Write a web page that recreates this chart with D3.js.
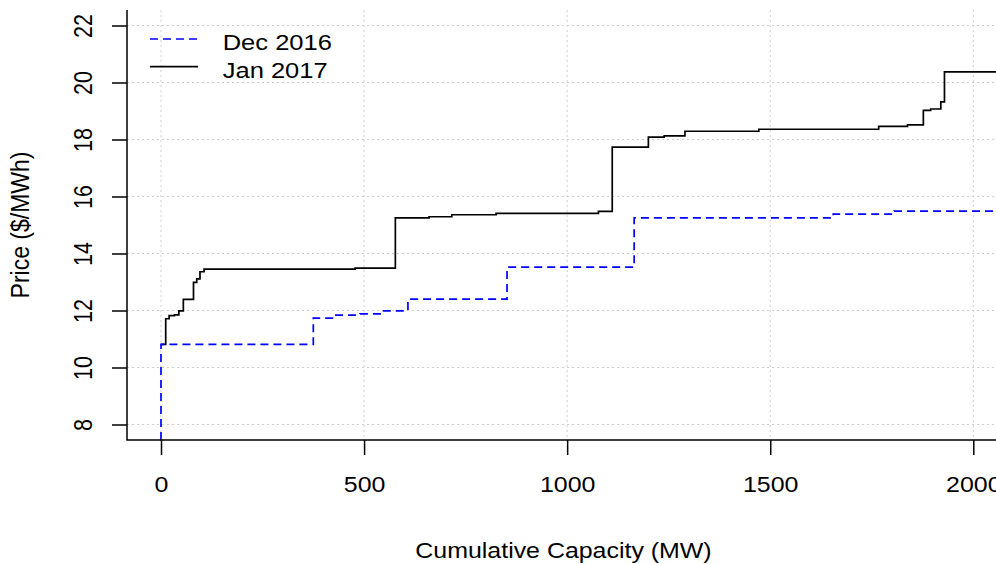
<!DOCTYPE html>
<html>
<head>
<meta charset="utf-8">
<script src="https://cdn.jsdelivr.net/npm/d3@7"></script>
<style>
  body { margin: 0; background: #fff; }
  #graphic text { font-family: "Liberation Sans", Arial, sans-serif; fill: #000; }
</style>
</head>
<body>
<div id="graphic"></div>
<script>
// cumulative capacity (MW) and price ($/MWh) of each step
const decMW    = [0, 0, 375, 424, 490, 546, 608, 852, 1165, 1655, 1805, 2150];
const decPrice = [7.0, 10.81, 11.73, 11.84, 11.88, 11.99, 12.40, 13.52, 15.25, 15.38, 15.49, 15.49];

const janMW    = [0, 11.6, 20, 33, 44, 55, 80, 88, 96, 106, 478, 577, 660, 716, 825, 1077, 1111,
                  1200, 1239, 1290, 1472, 1767, 1838, 1877, 1895, 1920, 1929, 2150];
const janPrice = [10.81, 11.71, 11.82, 11.85, 11.99, 12.39, 12.99, 13.11, 13.36, 13.45, 13.49, 15.25, 15.29,
                  15.36, 15.41, 15.48, 17.73, 18.08, 18.13, 18.29, 18.36, 18.46, 18.51, 19.02, 19.07, 19.32,
                  20.37, 20.37];

const xTicks = [0, 500, 1000, 1500, 2000];
const yTicks = [8, 10, 12, 14, 16, 18, 20, 22];
const seriesNames = ["Dec 2016", "Jan 2017"];

const width = 996, height = 564;
// plot region (R style, only left and bottom box sides drawn)
const plot = { left: 127, right: 1000, top: 10, bottom: 440 };
const stretch = 1.16; // the reference text is a little wider than plain Arial

// scales: anchored on the tick positions, then widened to the plot region
const x = d3.scaleLinear().domain([0, 2000]).range([161, 973.3]);
x.domain([x.invert(plot.left), x.invert(plot.right)]).range([plot.left, plot.right]);
const y = d3.scaleLinear().domain([8, 20]).range([424.5, 82.5]);
y.domain([y.invert(plot.bottom), y.invert(plot.top)]).range([plot.bottom, plot.top]);

const svg = d3.select('#graphic').append('svg')
  .attr('width', width)
  .attr('height', height);

svg.append('defs').append('clipPath').attr('id', 'plotclip')
  .append('rect')
  .attr('x', plot.left).attr('y', plot.top)
  .attr('width', plot.right - plot.left).attr('height', plot.bottom - plot.top);

// dotted grid
const grid = svg.append('g').attr('stroke', '#cfcfcf').attr('stroke-width', 1)
  .attr('stroke-dasharray', '2,3').attr('fill', 'none');
grid.selectAll('line.v').data(xTicks).join('line').attr('class', 'v')
  .attr('x1', d => x(d)).attr('x2', d => x(d))
  .attr('y1', plot.top).attr('y2', plot.bottom);
grid.selectAll('line.h').data(yTicks).join('line').attr('class', 'h')
  .attr('x1', plot.left).attr('x2', plot.right)
  .attr('y1', d => y(d)).attr('y2', d => y(d));

// step lines
const line = d3.line()
  .x(d => x(d[0]))
  .y(d => y(d[1]))
  .curve(d3.curveStepAfter);

const lines = svg.append('g').attr('clip-path', 'url(#plotclip)').attr('fill', 'none');
lines.append('path')
  .datum(d3.zip(janMW, janPrice))
  .attr('stroke', '#000')
  .attr('stroke-width', 1.7)
  .attr('d', line);
lines.append('path')
  .datum(d3.zip(decMW, decPrice))
  .attr('stroke', '#0000ff')
  .attr('stroke-width', 1.7)
  .attr('stroke-dasharray', '8,5')
  .attr('d', line);

// axes
const xAxis = d3.axisBottom(x).tickValues(xTicks).tickSizeInner(15).tickSizeOuter(0).tickPadding(0)
  .tickFormat(d3.format('d'));
const gx = svg.append('g')
  .attr('transform', `translate(0,${plot.bottom})`)
  .call(xAxis);
gx.select('.domain').remove();
gx.selectAll('.tick line').attr('stroke', '#000').attr('stroke-width', 1.5);
gx.selectAll('.tick text')
  .attr('y', 0).attr('dy', 0)
  .attr('transform', `translate(0,52) scale(${stretch},1)`)
  .style('font-size', '21.5px');

const yAxis = d3.axisLeft(y).tickValues(yTicks).tickSizeInner(15).tickSizeOuter(0).tickPadding(0);
const gy = svg.append('g')
  .attr('transform', `translate(${plot.left},0)`)
  .call(yAxis);
gy.select('.domain').remove();
gy.selectAll('.tick line').attr('stroke', '#000').attr('stroke-width', 1.5);
gy.selectAll('.tick text')
  .attr('x', 0).attr('y', 0).attr('dy', 0)
  .attr('text-anchor', 'middle')
  .attr('transform', `translate(-35.5,0) scale(${stretch},1) rotate(-90)`)
  .style('font-size', '21.5px');

// L-shaped box
svg.append('path')
  .attr('d', `M${plot.left},${plot.top}V${plot.bottom}H${plot.right}`)
  .attr('fill', 'none').attr('stroke', '#000').attr('stroke-width', 1.5);

// axis titles
svg.append('text')
  .attr('text-anchor', 'middle')
  .attr('transform', `translate(${(plot.left + plot.right) / 2},558) scale(${stretch},1)`)
  .style('font-size', '21.5px')
  .text('Cumulative Capacity (MW)');

svg.append('text')
  .attr('text-anchor', 'middle')
  .attr('transform', `translate(28.5,${(plot.top + plot.bottom) / 2}) scale(${stretch},1) rotate(-90)`)
  .style('font-size', '23px')
  .text('Price ($/MWh)');

// legend
const legend = svg.append('g');
const legendItems = legend.selectAll('g').data(seriesNames).join('g')
  .attr('transform', (d, i) => `translate(150,${39 + i * 27.7})`);
legendItems.append('line')
  .attr('x1', 0).attr('x2', 48)
  .attr('stroke', (d, i) => i === 0 ? '#0000ff' : '#000')
  .attr('stroke-width', 1.7)
  .attr('stroke-dasharray', (d, i) => i === 0 ? '8,5' : null);
legendItems.append('text')
  .attr('transform', `translate(72.7,11) scale(${stretch},1)`)
  .style('font-size', '22px')
  .text(d => d);
</script>
</body>
</html>
